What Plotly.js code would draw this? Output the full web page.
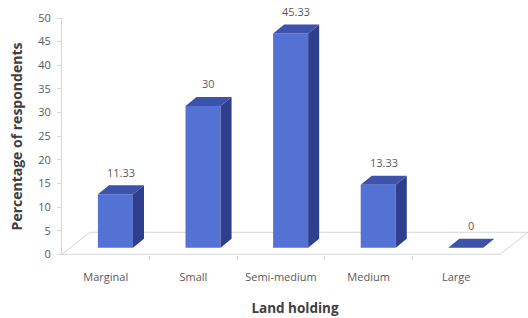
<!DOCTYPE html>
<html>
<head>
<meta charset="utf-8">
<script src="https://cdn.plot.ly/plotly-3.0.1.min.js"></script>
<style>html,body{margin:0;padding:0;background:#fff;}#chart{width:528px;height:318px;}</style>
</head>
<body>
<div id="chart"></div>
<script>
// ---- data ----
const categories = ["Marginal", "Small", "Semi-medium", "Medium", "Large"];
const percentages = [11.33, 30, 45.33, 13.33, 0];
const valueLabels = ["11.33", "30", "45.33", "13.33", "0"];
const yTicks = [0, 5, 10, 15, 20, 25, 30, 35, 40, 45, 50];

// ---- 3D look parameters (axis units) ----
const shift = 0.11;     // bars sit mid-depth on the floor
const halfW = 0.20;     // half bar width
const base = 1.4;       // front-face bottom above floor front edge
const dx = 0.126, dy = 1.9;      // bar depth offset
const fdx = 0.32, fdy = 4.66;    // floor depth offset

const idx = categories.map((_, i) => i);
const cx = idx.map(i => i + shift);

const sideX = [], sideY = [], topX = [], topY = [];
percentages.forEach((v, i) => {
  const l = cx[i] - halfW, r = cx[i] + halfW, t = base + v;
  if (v > 0) {
    sideX.push(r, r + dx, r + dx, r, r, null);
    sideY.push(base, base + dy, t + dy, t, base, null);
  }
  topX.push(l, l + dx, r + dx, r, l, null);
  topY.push(t, t + dy, t + dy, t, t, null);
});

const traces = [
  {
    type: 'bar', x: cx, y: percentages, base: base, width: 2 * halfW,
    marker: {color: '#5472d3', line: {width: 0}},
    hoverinfo: 'skip', showlegend: false
  },
  {
    type: 'scatter', mode: 'lines', x: sideX, y: sideY, fill: 'toself',
    fillcolor: '#2f3f8e', line: {width: 0, color: '#2f3f8e'},
    hoverinfo: 'skip', showlegend: false
  },
  {
    type: 'scatter', mode: 'lines', x: topX, y: topY, fill: 'toself',
    fillcolor: '#3d53ab', line: {width: 0, color: '#3d53ab'},
    hoverinfo: 'skip', showlegend: false
  },
  {
    type: 'scatter', mode: 'markers', x: [0], y: [0], xaxis: 'x2',
    marker: {opacity: 0}, hoverinfo: 'skip', showlegend: false
  }
];

const annotations = percentages.map((v, i) => ({
  xref: 'x', yref: 'y', x: cx[i] + dx / 2, y: base + v + dy,
  text: valueLabels[i], showarrow: false,
  xanchor: 'center', yanchor: 'middle', yshift: 13,
  font: {family: 'Open Sans, sans-serif', size: 11, color: '#595959'}
}));

const floorColor = '#d6d6d6';
const shapes = [
  {type: 'line', xref: 'x', yref: 'y', x0: -0.5, y0: 0, x1: 4.5, y1: 0},
  {type: 'line', xref: 'x', yref: 'y', x0: -0.5, y0: 0, x1: -0.5 + fdx, y1: fdy},
  {type: 'line', xref: 'x', yref: 'y', x0: -0.5 + fdx, y0: fdy, x1: 4.5 + fdx, y1: fdy},
  {type: 'line', xref: 'x', yref: 'y', x0: 4.5, y0: 0, x1: 4.5 + fdx, y1: fdy}
].map(s => Object.assign(s, {layer: 'below', line: {color: floorColor, width: 1}}));

const layout = {
  width: 528, height: 318,
  margin: {l: 62, r: 0, t: 18, b: 63},
  paper_bgcolor: '#ffffff', plot_bgcolor: '#ffffff',
  font: {family: 'Open Sans, sans-serif', color: '#595959'},
  xaxis: {
    range: [-0.5, 4.5 + fdx],
    tickvals: idx, ticktext: categories,
    ticks: '', showgrid: false, zeroline: false, showline: false,
    tickfont: {size: 11, color: '#595959'},
    ticklabelstandoff: 14,
    title: {text: 'Land holding', font: {size: 13.5, color: '#404040', family: 'Open Sans, sans-serif', weight: 'bold'}, standoff: 20}
  },
  xaxis2: {
    overlaying: 'x', matches: 'x', side: 'bottom',
    tickvals: [0.5, 1.5, 2.5, 3.5], ticks: 'outside', ticklen: 4, tickcolor: floorColor,
    showticklabels: false, showgrid: false, zeroline: false, showline: false
  },
  yaxis: {
    range: [-0.15, 50],
    tickvals: yTicks,
    ticks: 'outside', ticklen: 4, tickcolor: floorColor,
    showline: true, linecolor: floorColor, linewidth: 1,
    showgrid: false, zeroline: false,
    tickfont: {size: 11, color: '#595959'},
    ticklabelstandoff: 4,
    title: {text: 'Percentage of respondents', font: {size: 14, color: '#404040', family: 'Open Sans, sans-serif', weight: 'bold'}, standoff: 12}
  },
  shapes: shapes,
  annotations: annotations,
  showlegend: false
};

Plotly.newPlot('chart', traces, layout, {displayModeBar: false, staticPlot: true});
</script>
</body>
</html>
